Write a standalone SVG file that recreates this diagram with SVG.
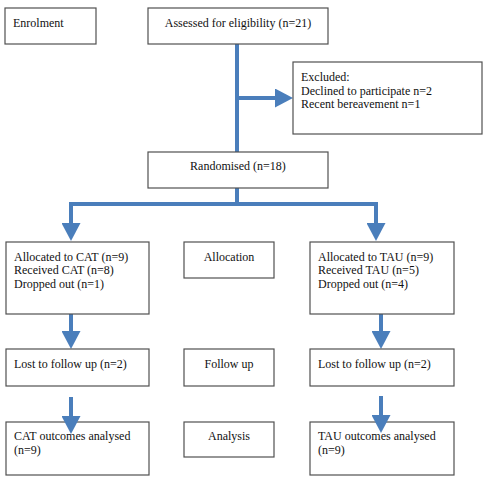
<svg xmlns="http://www.w3.org/2000/svg" width="483" height="487" viewBox="0 0 483 487">
<style>
.box{fill:#fff;stroke:#505050;stroke-width:1.2}
text{font-family:"Liberation Serif","Times New Roman",serif;font-size:12px;fill:#111}
.c{text-anchor:middle}
.ln{stroke:#4a7ebb;stroke-width:4;fill:none}
</style>
<defs>
<marker id="ah" markerUnits="userSpaceOnUse" markerWidth="18" markerHeight="19" viewBox="0 0 18 19" refX="0" refY="9.5" orient="auto">
<path d="M0,0 L18,9.5 L0,19 Z" fill="#4a7ebb"/>
</marker>
</defs>
<rect width="483" height="487" fill="#fff"/>
<g id="connectors">
<line class="ln" x1="237" y1="44" x2="237" y2="152"/>
<line class="ln" x1="237" y1="98" x2="275" y2="98" marker-end="url(#ah)"/>
<line class="ln" x1="237" y1="188" x2="237" y2="204"/>
<line class="ln" x1="69" y1="204" x2="378" y2="204"/>
<line class="ln" x1="71" y1="202" x2="71" y2="223" marker-end="url(#ah)"/>
<line class="ln" x1="376" y1="202" x2="376" y2="223" marker-end="url(#ah)"/>
<line class="ln" x1="71" y1="314" x2="71" y2="331" marker-end="url(#ah)"/>
<line class="ln" x1="381" y1="314" x2="381" y2="331" marker-end="url(#ah)"/>
</g>
<g id="enrolment"><rect class="box" x="5" y="8" width="91" height="36"/><text x="13" y="27">Enrolment</text></g>
<g id="assessed"><rect class="box" x="148" y="8" width="180" height="36"/><text class="c" x="238" y="27">Assessed for eligibility (n=21)</text></g>
<g id="excluded"><rect class="box" x="293" y="62" width="189" height="72"/>
<text x="301" y="81">Excluded:</text><text x="301" y="95">Declined to participate n=2</text><text x="301" y="108">Recent bereavement n=1</text></g>
<g id="randomised"><rect class="box" x="148" y="152" width="180" height="36"/><text class="c" x="238" y="170">Randomised (n=18)</text></g>
<g id="allocCAT"><rect class="box" x="6" y="242" width="143" height="72"/>
<text x="14" y="261">Allocated to CAT (n=9)</text><text x="14" y="274">Received CAT (n=8)</text><text x="14" y="288">Dropped out (n=1)</text></g>
<g id="allocation"><rect class="box" x="184" y="242" width="90" height="36"/><text class="c" x="229" y="261">Allocation</text></g>
<g id="allocTAU"><rect class="box" x="310" y="242" width="144" height="72"/>
<text x="318" y="261">Allocated to TAU (n=9)</text><text x="318" y="274">Received TAU (n=5)</text><text x="318" y="288">Dropped out (n=4)</text></g>
<g id="lostCAT"><rect class="box" x="6" y="349" width="143" height="37"/><text x="14" y="368">Lost to follow up (n=2)</text></g>
<g id="followup"><rect class="box" x="184" y="349" width="90" height="37"/><text class="c" x="229" y="368">Follow up</text></g>
<g id="lostTAU"><rect class="box" x="310" y="349" width="144" height="37"/><text x="318" y="368">Lost to follow up (n=2)</text></g>
<g id="outCAT"><rect class="box" x="6" y="422" width="143" height="53"/><text x="14" y="440">CAT outcomes analysed</text><text x="14" y="454">(n=9)</text></g>
<g id="analysis"><rect class="box" x="184" y="422" width="90" height="35"/><text class="c" x="229" y="440">Analysis</text></g>
<g id="outTAU"><rect class="box" x="310" y="422" width="144" height="53"/><text x="318" y="440">TAU outcomes analysed</text><text x="318" y="454">(n=9)</text></g>
<g id="connectors-over">
<line class="ln" x1="71" y1="397" x2="71" y2="416" marker-end="url(#ah)"/>
<line class="ln" x1="381" y1="396" x2="381" y2="415" marker-end="url(#ah)"/>
</g>
</svg>
